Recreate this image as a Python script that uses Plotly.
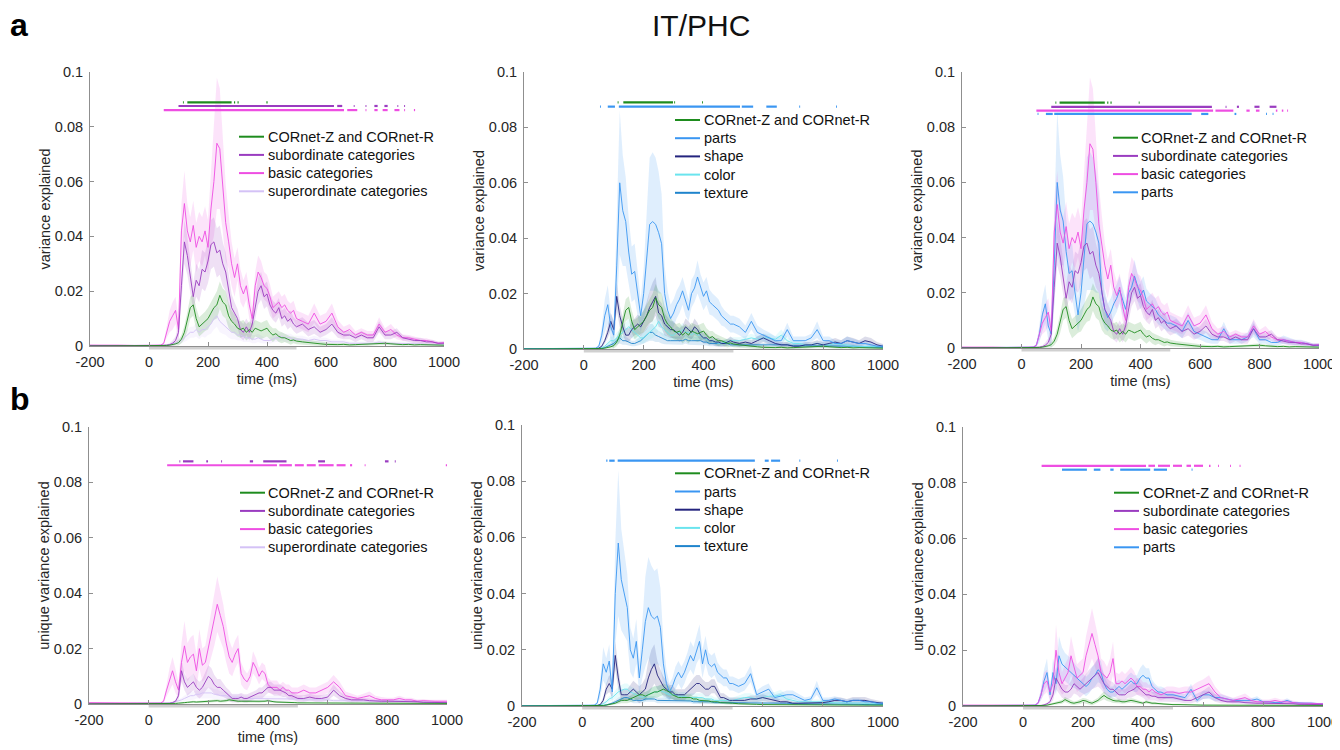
import plotly.graph_objects as go

# ---------------- time axis (ms) ----------------
time_ms = [-200, -150, -100, -50, 0, 20,
           40, 50, 60, 70, 80, 90, 100, 110, 120, 130,
           140, 150, 160, 170, 180, 190, 200, 210, 220, 230,
           240, 250, 260, 270, 280, 290, 300, 310, 320, 330,
           340, 350, 360, 370, 380, 390, 400, 410, 420, 430,
           440, 450, 460, 470, 480, 490, 500,
           520, 540, 560, 580, 600, 620, 640, 660, 680, 700,
           720, 740, 760, 780, 800, 820, 840, 860, 880, 900,
           920, 940, 960, 980, 1000]

# values below are in units of 1e-3 (variance explained x 1000)
# ---------------- row a: variance explained ----------------
a_cornet = ([0, 0, 0, 0, 0, 0.1] +
            [0.1, 0.1, 0.2, 0.3, 0.5, 0.8, 1.2, 2.5, 5, 9] +
            [14, 15, 10, 7, 8, 9, 10, 12, 14, 15] +
            [18.5, 16, 15, 11, 9, 8, 6.5, 6, 6.5, 5] +
            [6, 5, 6.5, 6, 5.5, 6, 6.5, 5, 4, 4.5] +
            [3.5, 3, 3, 2.5, 2, 2.2, 1.8] +
            [1.5, 1.2, 1.0, 0.8, 0.6, 0.5, 0.5, 0.6, 0.4, 0.5] +
            [0.6, 0.5, 0.7, 0.9, 1.0, 0.8, 0.6, 0.5, 0.6, 0.4] +
            [0.5, 0.4, 0.3, 0.3, 0.3])
a_cornet_sem = ([0.1, 0.1, 0.1, 0.1, 0.1, 0.1] +
                [0.1, 0.1, 0.2, 0.3, 0.4, 0.6, 1, 1.5, 2.5, 3.5] +
                [4, 4, 4, 3.5, 3.5, 3.5, 4, 4, 4.5, 5] +
                [5, 5, 5, 4.5, 4, 3.5, 3, 3, 3, 3] +
                [3, 3, 3, 3, 3, 3, 3, 2.5, 2.5, 2] +
                [2, 2, 1.5, 1.5, 1.5, 1.2, 1.2] +
                [1, 1, 0.8, 0.8, 0.6, 0.6, 0.5, 0.5, 0.5, 0.5] +
                [0.5, 0.5, 0.5, 0.6, 0.6, 0.5, 0.5, 0.4, 0.4, 0.4] +
                [0.4, 0.3, 0.3, 0.3, 0.3])

a_sub = ([0.2, 0.1, 0.1, 0.1, 0.1, 0.1] +
         [0.1, 0.2, 0.3, 0.5, 1, 2, 5, 22, 38, 33] +
         [26, 18, 24, 22, 28, 27, 31, 37, 38, 34] +
         [35, 30, 27, 21, 14, 12, 10, 6, 5, 7] +
         [5, 8, 14, 20, 22, 18, 19, 15, 13, 12] +
         [14, 10, 11, 9, 10, 8, 7] +
         [8, 6, 7, 5, 6, 8, 5, 4, 4, 3] +
         [4, 3, 3, 7, 4, 4, 5, 3, 2.5, 2] +
         [2, 1.5, 1.5, 1, 1])
a_sub_sem = ([0.1, 0.1, 0.1, 0.1, 0.1, 0.1] +
             [0.1, 0.2, 0.3, 0.5, 1, 1.5, 3, 6, 8, 7] +
             [6, 5, 6, 6, 7, 7, 8, 9, 9, 9] +
             [9, 8, 7, 6, 5, 4, 3.5, 3, 3, 3] +
             [3, 3.5, 4, 5, 5, 4.5, 4.5, 4, 3.5, 3.5] +
             [3.5, 3, 3, 3, 3, 2.5, 2.5] +
             [2.5, 2.5, 2.5, 2, 2, 2.5, 2, 1.5, 1.5, 1.5] +
             [1.5, 1.5, 1.5, 2, 1.5, 1.5, 1.5, 1, 1, 1] +
             [1, 0.8, 0.8, 0.6, 0.6])

a_basic = ([0.3, 0.4, 0.3, 0.2, 0.3, 0.3] +
           [0.3, 1, 5, 9, 11, 13, 6, 42, 52, 42] +
           [38, 44, 36, 40, 38, 42, 36, 50, 60, 74] +
           [72, 60, 45, 38, 30, 25, 30, 22, 19, 22] +
           [15, 10, 22, 27, 25, 22, 21, 18, 14, 15] +
           [16, 14, 15, 13, 12, 13, 10] +
           [9, 8, 12, 8, 9, 12, 7, 5, 6, 4] +
           [5, 4, 4, 8, 5, 6, 4, 3, 3, 2.5] +
           [2, 2, 1.5, 1, 1.2])
a_basic_sem = ([0.2, 0.2, 0.2, 0.2, 0.2, 0.2] +
               [0.2, 0.5, 2, 4, 5, 5, 4, 10, 12, 10] +
               [9, 9, 9, 9, 9, 9, 10, 14, 20, 24] +
               [22, 18, 14, 10, 8, 7, 6, 6, 5, 5] +
               [5, 4, 5, 6, 6, 5, 5, 4.5, 4, 4] +
               [4, 4, 4, 3.5, 3.5, 3.5, 3] +
               [3, 3, 3.5, 3, 3, 3.5, 2.5, 2, 2, 1.5] +
               [1.5, 1.5, 1.5, 2.5, 1.5, 2, 1.5, 1.2, 1, 1] +
               [0.8, 0.8, 0.6, 0.5, 0.5])

a_super = ([0.1, 0.1, 0.1, 0.1, 0.1, 0.1] +
           [0.1, 0.1, 0.3, 0.5, 1, 1, 1.5, 2, 3, 4] +
           [5, 5, 6, 5, 6, 6, 7, 8, 10, 11] +
           [9, 8, 7, 6, 5, 5, 4, 4, 3.5, 3] +
           [3, 2.5, 2.5, 3, 2.5, 2, 2, 2, 2.5, 3] +
           [3, 3.5, 3, 3, 3, 2.5, 2.5] +
           [2.5, 2, 2.5, 2, 2, 1.5, 1.5, 1.5, 1, 1] +
           [1, 1, 1, 1.5, 1, 1, 1, 1, 1, 0.8] +
           [0.8, 0.6, 0.6, 0.5, 0.5])
a_super_sem = ([0.1, 0.1, 0.1, 0.1, 0.1, 0.1] +
               [0.1, 0.1, 0.2, 0.3, 0.5, 0.5, 1, 1, 1.5, 2] +
               [2, 2, 2.5, 2.5, 2.5, 3, 3, 3.5, 4, 4] +
               [4, 3.5, 3, 3, 2.5, 2.5, 2, 2, 2, 1.5] +
               [1.5, 1.5, 1.5, 1.5, 1.5, 1.2, 1.2, 1.2, 1.2, 1.5] +
               [1.5, 1.5, 1.5, 1.5, 1.5, 1.2, 1.2] +
               [1.2, 1, 1.2, 1, 1, 0.8, 0.8, 0.8, 0.6, 0.6] +
               [0.6, 0.6, 0.6, 0.8, 0.6, 0.6, 0.6, 0.6, 0.6, 0.5] +
               [0.5, 0.4, 0.4, 0.3, 0.3])

a_parts = ([0.1, 0.1, 0.2, 0.1, 0.1, 0.2] +
           [0.3, 1, 5, 12, 16, 8, 5, 30, 60, 50] +
           [46, 35, 27, 28, 20, 12, 20, 33, 45, 46] +
           [45, 42, 38, 20, 14, 11, 13, 16, 18, 21] +
           [17, 14, 20, 22, 26, 22, 19, 21, 17, 16] +
           [15, 14, 12, 11, 10, 9, 9] +
           [8, 6, 10, 6, 5, 4, 3, 3, 7, 3] +
           [3, 3, 4, 7, 3, 3, 2, 2, 3, 2.5] +
           [2, 2, 1.5, 1, 1])
a_parts_sem = ([0.1, 0.1, 0.1, 0.1, 0.1, 0.1] +
               [0.2, 0.5, 3, 6, 7, 5, 5, 15, 26, 20] +
               [16, 12, 10, 10, 8, 6, 9, 18, 24, 25] +
               [24, 22, 18, 10, 7, 5, 5, 5, 5, 5] +
               [5, 4, 5, 5, 6, 5, 5, 5, 4.5, 4] +
               [4, 4, 3.5, 3, 3, 3, 3] +
               [3, 2.5, 3, 2.5, 2, 2, 1.5, 1.5, 2.5, 1.5] +
               [1.5, 1.5, 1.5, 3, 1.5, 1.5, 1.2, 1.2, 1.5, 1.2] +
               [1, 1, 0.8, 0.6, 0.6])

a_shape = ([0, 0, 0, 0, 0, 0.1] +
           [0.1, 0.3, 1, 3, 6, 10, 7, 19, 12, 8] +
           [5, 5, 7, 8, 9, 8, 10, 12, 15, 17] +
           [19, 13, 12, 9, 8, 7, 7, 6, 5, 6] +
           [8, 7, 6, 8, 7, 5, 4, 4, 3, 3] +
           [2.5, 2.5, 2, 2, 2.5, 3, 2.5] +
           [2, 2.5, 2, 3, 4, 3, 2, 1.5, 1.5, 1] +
           [1, 1.5, 1.5, 2, 1.5, 2, 2.5, 2, 3, 2.5] +
           [2, 3, 2.5, 1.5, 1])
a_shape_sem = ([0.1, 0.1, 0.1, 0.1, 0.1, 0.1] +
               [0.1, 0.2, 0.5, 1, 2, 3, 3, 5, 4, 3] +
               [2.5, 2.5, 3, 3, 3.5, 3.5, 4, 5, 6, 7] +
               [7, 5, 4.5, 4, 3.5, 3, 3, 2.5, 2.5, 2.5] +
               [3, 3, 2.5, 3, 2.5, 2, 2, 2, 1.5, 1.5] +
               [1.5, 1.5, 1.2, 1.2, 1.2, 1.5, 1.2] +
               [1.2, 1.2, 1.2, 1.5, 1.5, 1.5, 1, 1, 1, 0.8] +
               [0.8, 1, 1, 1.2, 1, 1.2, 1.5, 1.2, 1.5, 1.5] +
               [1.2, 1.5, 1.5, 1, 0.8])

a_color = ([0, 0, 0, 0, 0, 0] +
           [0.1, 0.2, 0.5, 1, 2, 3, 3, 4, 5, 6] +
           [7, 8, 7, 6, 5, 4, 4, 5, 6, 7] +
           [8, 10, 8, 7, 6, 5, 5, 6, 6, 7] +
           [6, 6, 5, 6, 5, 5, 4, 3.5, 3, 3] +
           [2.5, 2, 2, 2.5, 2.5, 3, 3] +
           [3, 3.5, 4, 3.5, 4, 4, 3.5, 5, 3, 2] +
           [2, 1.5, 1.5, 2, 1.5, 1.5, 2, 1.5, 1.5, 1] +
           [1, 1, 1, 0.8, 0.8])
a_color_sem = ([0.1, 0.1, 0.1, 0.1, 0.1, 0.1] +
               [0.1, 0.1, 0.3, 0.5, 1, 1.5, 1.5, 2, 2, 2.5] +
               [2.5, 3, 3, 2.5, 2, 2, 2, 2, 2.5, 3] +
               [3, 3.5, 3, 3, 2.5, 2, 2, 2, 2, 2.5] +
               [2, 2, 2, 2, 2, 2, 1.5, 1.5, 1.2, 1.2] +
               [1, 1, 1, 1, 1, 1.2, 1.2] +
               [1.2, 1.2, 1.5, 1.2, 1.5, 1.5, 1.2, 2, 1.2, 1] +
               [1, 0.8, 0.8, 1, 0.8, 0.8, 1, 0.8, 0.8, 0.6] +
               [0.6, 0.6, 0.6, 0.5, 0.5])

a_texture = ([0, 0, 0, 0, 0, 0] +
             [0.1, 0.1, 0.2, 0.5, 1, 1.5, 2, 3, 4, 3] +
             [3, 2.5, 2, 2, 2.5, 3, 4, 5, 6, 6] +
             [5, 4.5, 4, 3.5, 3, 3, 3, 3, 3, 3] +
             [3.5, 3, 3, 3, 3, 3, 2.5, 2.5, 2, 2] +
             [2, 2, 2, 2, 2, 1.5, 1.5] +
             [1.5, 1.5, 1.5, 1.5, 1.5, 1.5, 1.5, 1.5, 1.5, 1.2] +
             [1.2, 1, 1, 1, 1, 1, 1, 1, 1, 1] +
             [0.8, 0.8, 0.8, 0.6, 0.6])
a_texture_sem = ([0.1, 0.1, 0.1, 0.1, 0.1, 0.1] +
                 [0.1, 0.1, 0.1, 0.3, 0.5, 0.8, 1, 1.5, 2, 1.5] +
                 [1.5, 1.2, 1, 1, 1.2, 1.5, 2, 2.5, 3, 3] +
                 [2.5, 2, 2, 1.8, 1.5, 1.5, 1.5, 1.5, 1.5, 1.5] +
                 [1.5, 1.5, 1.5, 1.5, 1.5, 1.5, 1.2, 1.2, 1, 1] +
                 [1, 1, 1, 1, 1, 0.8, 0.8] +
                 [0.8, 0.8, 0.8, 0.8, 0.8, 0.8, 0.8, 0.8, 0.8, 0.6] +
                 [0.6, 0.5, 0.5, 0.5, 0.5, 0.5, 0.5, 0.5, 0.5, 0.5] +
                 [0.4, 0.4, 0.4, 0.3, 0.3])

# ---------------- row b: unique variance explained ----------------
# panel b1 (categories)
b1_cornet = ([0, 0, 0, 0, 0, 0] +
             [0, 0, 0.1, 0.1, 0.2, 0.2, 0.3, 0.3, 0.5, 0.6] +
             [0.8, 0.8, 0.7, 0.8, 0.9, 1, 1, 1, 1.1, 1.2] +
             [1, 1, 1.2, 1.5, 1.3, 1.2, 1, 1, 1, 0.9] +
             [0.9, 0.8, 0.8, 0.8, 0.9, 1, 1.2, 0.9, 0.8, 0.7] +
             [0.7, 0.6, 0.6, 0.5, 0.5, 0.5, 0.4] +
             [0.4, 0.3, 0.3, 0.3, 0.3, 0.3, 0.3, 0.3, 0.3, 0.3] +
             [0.3, 0.3, 0.3, 0.3, 0.3, 0.3, 0.3, 0.2, 0.2, 0.2] +
             [0.2, 0.2, 0.2, 0.2, 0.2])
b1_cornet_sem = ([0.1, 0.1, 0.1, 0.1, 0.1, 0.1] +
                 [0.1, 0.1, 0.1, 0.1, 0.2, 0.2, 0.2, 0.3, 0.3, 0.4] +
                 [0.4, 0.4, 0.4, 0.4, 0.5, 0.5, 0.5, 0.5, 0.5, 0.5] +
                 [0.5, 0.5, 0.6, 0.6, 0.6, 0.5, 0.5, 0.5, 0.5, 0.5] +
                 [0.5, 0.4, 0.4, 0.4, 0.4, 0.5, 0.5, 0.4, 0.4, 0.4] +
                 [0.4, 0.3, 0.3, 0.3, 0.3, 0.3, 0.3] +
                 [0.3, 0.2, 0.2, 0.2, 0.2, 0.2, 0.2, 0.2, 0.2, 0.2] +
                 [0.2, 0.2, 0.2, 0.2, 0.2, 0.2, 0.2, 0.2, 0.2, 0.2] +
                 [0.2, 0.2, 0.2, 0.2, 0.2])

b1_sub = ([0.1, 0.1, 0.1, 0.1, 0.1, 0.1] +
          [0.1, 0.1, 0.2, 0.3, 0.5, 1, 3, 12, 8, 6] +
          [7, 8, 6, 5, 6, 8, 10, 9, 7, 6] +
          [6, 5, 4, 3, 2, 2, 2, 2.5, 2, 2] +
          [2.5, 3, 3.5, 4, 4, 5, 6, 6, 5, 5] +
          [5, 4.5, 4, 3, 3, 2.5, 2] +
          [2, 2.5, 2, 2, 2.5, 5, 3, 2, 1.5, 1.5] +
          [1.5, 1.2, 1, 1, 1, 1, 1, 0.8, 0.8, 0.8] +
          [0.6, 0.6, 0.5, 0.5, 0.5])
b1_sub_sem = ([0.1, 0.1, 0.1, 0.1, 0.1, 0.1] +
              [0.1, 0.1, 0.1, 0.2, 0.3, 0.5, 1.5, 4, 3, 3] +
              [3, 3, 3, 3, 3, 3.5, 4, 4, 3.5, 3] +
              [3, 2.5, 2, 2, 1.5, 1.5, 1.5, 1.5, 1.5, 1.5] +
              [1.5, 1.5, 1.5, 2, 2, 2, 2, 2, 2, 2] +
              [2, 2, 1.5, 1.5, 1.5, 1.2, 1.2] +
              [1.2, 1.2, 1.2, 1.2, 1.2, 2, 1.5, 1, 1, 0.8] +
              [0.8, 0.8, 0.6, 0.6, 0.6, 0.6, 0.6, 0.5, 0.5, 0.5] +
              [0.4, 0.4, 0.4, 0.3, 0.3])

b1_basic = ([0.5, 0.4, 0.3, 0.3, 0.3, 0.3] +
            [0.3, 1, 5, 9, 12, 8, 5, 15, 21, 15] +
            [17, 18, 12, 20, 14, 15, 20, 25, 30, 36] +
            [32, 28, 22, 17, 15, 18, 20, 11, 9, 8] +
            [10, 15, 13, 10, 12, 11, 7, 6, 6, 6] +
            [5, 6, 5, 5, 4, 4, 4] +
            [5, 4, 4, 5, 6, 8, 6, 3, 2.5, 2] +
            [2.5, 3, 2, 1.5, 1.5, 1.5, 2, 1.5, 1.5, 1] +
            [1.2, 1, 1, 1, 1])
b1_basic_sem = ([0.2, 0.2, 0.2, 0.2, 0.2, 0.2] +
                [0.2, 0.5, 2, 4, 5, 4, 3, 7, 9, 7] +
                [7, 7, 6, 7, 6, 6, 7, 8, 9, 10] +
                [9, 8, 7, 6, 5, 5, 5, 4, 3.5, 3] +
                [3, 4, 3.5, 3, 3, 3, 2.5, 2.5, 2.5, 2.5] +
                [2, 2, 2, 2, 2, 2, 2] +
                [2, 2, 2, 2, 2, 2.5, 2, 1.5, 1.2, 1] +
                [1.2, 1.5, 1, 1, 0.8, 0.8, 1, 0.8, 0.8, 0.6] +
                [0.6, 0.5, 0.5, 0.5, 0.5])

b1_super = ([0.1, 0.1, 0.1, 0.1, 0.1, 0.1] +
            [0.1, 0.1, 0.2, 0.3, 0.5, 0.8, 1, 1.5, 2, 2.5] +
            [3, 3, 3.5, 3.5, 4, 4, 4, 4, 3.5, 3.5] +
            [3, 3, 3, 2.5, 2.5, 2.5, 2.5, 2.5, 2, 2] +
            [2, 2, 2, 2, 2, 2, 2, 2, 2, 2] +
            [2, 2, 1.8, 1.8, 1.8, 1.8, 1.8] +
            [1.5, 1.5, 1.5, 1.5, 1.5, 1.2, 1.2, 1.2, 1.2, 1] +
            [1, 1, 1, 1, 1, 1, 1, 1, 1.2, 1] +
            [0.8, 0.8, 0.8, 0.6, 0.6])
b1_super_sem = ([0.1, 0.1, 0.1, 0.1, 0.1, 0.1] +
                [0.1, 0.1, 0.1, 0.2, 0.3, 0.4, 0.5, 0.8, 1, 1.2] +
                [1.5, 1.5, 1.5, 1.5, 2, 2, 2, 2, 1.8, 1.8] +
                [1.5, 1.5, 1.5, 1.2, 1.2, 1.2, 1.2, 1.2, 1, 1] +
                [1, 1, 1, 1, 1, 1, 1, 1, 1, 1] +
                [1, 1, 0.8, 0.8, 0.8, 0.8, 0.8] +
                [0.8, 0.8, 0.8, 0.8, 0.8, 0.6, 0.6, 0.6, 0.6, 0.5] +
                [0.5, 0.5, 0.5, 0.5, 0.5, 0.5, 0.5, 0.5, 0.6, 0.5] +
                [0.4, 0.4, 0.4, 0.3, 0.3])

# panel b2 (features)
b2_cornet = ([0, 0, 0, 0, 0, 0] +
             [0, 0.1, 0.1, 0.2, 0.3, 0.5, 0.8, 1, 1.5, 2] +
             [2, 2, 2.5, 3, 3.5, 4, 4, 3.5, 4, 4.5] +
             [5, 5, 5.5, 6, 5.5, 5, 4, 3.5, 3, 3] +
             [3, 3, 3, 2.5, 2.5, 2, 2, 2, 1.8, 1.5] +
             [1.5, 1.5, 1.2, 1.2, 1, 1, 1] +
             [0.8, 0.8, 0.6, 0.6, 0.5, 0.5, 0.5, 0.5, 0.5, 0.5] +
             [0.5, 0.5, 0.5, 0.5, 0.5, 0.5, 0.5, 0.5, 0.4, 0.4] +
             [0.4, 0.4, 0.3, 0.3, 0.3])
b2_cornet_sem = ([0.1, 0.1, 0.1, 0.1, 0.1, 0.1] +
                 [0.1, 0.1, 0.1, 0.1, 0.2, 0.3, 0.4, 0.5, 0.8, 1] +
                 [1, 1, 1.2, 1.5, 1.5, 1.5, 1.5, 1.5, 1.5, 2] +
                 [2, 2, 2, 2, 2, 2, 1.5, 1.5, 1.2, 1.2] +
                 [1.2, 1.2, 1.2, 1, 1, 1, 0.8, 0.8, 0.8, 0.6] +
                 [0.6, 0.6, 0.5, 0.5, 0.5, 0.5, 0.5] +
                 [0.4, 0.4, 0.3, 0.3, 0.3, 0.3, 0.3, 0.3, 0.3, 0.3] +
                 [0.3, 0.3, 0.3, 0.3, 0.3, 0.3, 0.3, 0.3, 0.2, 0.2] +
                 [0.2, 0.2, 0.2, 0.2, 0.2])

b2_parts = ([0.1, 0.1, 0.2, 0.1, 0.1, 0.2] +
            [0.3, 1, 6, 15, 12, 16, 5, 40, 58, 45] +
            [40, 35, 20, 17, 23, 10, 20, 30, 35, 32] +
            [31, 32, 28, 15, 8, 5, 7, 10, 12, 10] +
            [12, 15, 18, 16, 20, 23, 15, 20, 15, 14] +
            [15, 12, 11, 10, 10, 8, 8] +
            [7, 8, 11.5, 4, 5, 6, 3, 3.5, 4, 4] +
            [3, 2, 2.5, 6.5, 2, 2, 2.5, 2, 1.5, 2] +
            [2, 1.5, 1.5, 1, 1])
b2_parts_sem = ([0.1, 0.1, 0.1, 0.1, 0.1, 0.1] +
                [0.2, 0.5, 3, 6, 5, 6, 4, 18, 26, 18] +
                [15, 12, 8, 7, 8, 6, 10, 16, 18, 18] +
                [17, 17, 14, 8, 5, 3, 3, 4, 4, 4] +
                [4, 4, 5, 5, 5, 6, 5, 5, 4, 4] +
                [4, 3.5, 3, 3, 3, 2.5, 2.5] +
                [2.5, 2.5, 3, 1.5, 2, 2, 1.2, 1.2, 1.5, 1.5] +
                [1.2, 1, 1, 2.5, 1, 1, 1, 1, 0.8, 0.8] +
                [0.8, 0.6, 0.6, 0.5, 0.5])

b2_shape = ([0, 0, 0, 0, 0, 0] +
            [0.1, 0.2, 0.5, 2, 6, 8, 6, 18, 10, 4] +
            [4, 4, 5, 6, 5, 4, 5, 6, 10, 13] +
            [15, 11, 9, 7, 6, 5, 5, 4, 4, 4] +
            [4, 5, 6, 7, 8, 8, 7, 6, 6, 7] +
            [7, 5, 3, 3, 2.5, 2, 2] +
            [2, 2, 2.5, 2.5, 3, 2.5, 2, 1.5, 1.5, 1] +
            [1, 1, 1, 1, 1.2, 1.5, 2, 2, 1.5, 2] +
            [2, 2, 1.5, 1.2, 1])
b2_shape_sem = ([0.1, 0.1, 0.1, 0.1, 0.1, 0.1] +
                [0.1, 0.1, 0.3, 1, 2, 3, 3, 5, 4, 2] +
                [2, 2, 2.5, 3, 3, 3, 3, 4, 6, 7] +
                [7, 5, 4, 3.5, 3, 2.5, 2.5, 2, 2, 2] +
                [2, 2, 2.5, 3, 3, 3, 2.5, 2.5, 2.5, 2.5] +
                [2.5, 2, 1.5, 1.5, 1.2, 1, 1] +
                [1, 1, 1.2, 1.2, 1.2, 1.2, 1, 0.8, 0.8, 0.6] +
                [0.6, 0.6, 0.6, 0.6, 0.8, 0.8, 1, 1, 1, 1.2] +
                [1.2, 1.2, 1, 0.8, 0.6])

b2_color = ([0, 0, 0, 0, 0, 0] +
            [0.1, 0.2, 0.4, 0.8, 1.5, 2.5, 3, 4, 5, 5.5] +
            [6, 6, 5, 4.5, 4, 3.5, 3, 3.5, 4, 4.5] +
            [5, 5, 5.5, 5, 4.5, 4, 4, 4, 3.5, 3.5] +
            [3.5, 3, 3, 3, 3, 3, 3, 2.5, 2.5, 2.5] +
            [2, 2, 2, 2, 2, 2, 2] +
            [2.5, 3, 3, 2.5, 3, 3.5, 3.5, 4, 2.5, 2] +
            [1.5, 1.5, 1.5, 1.5, 1.5, 1.2, 1.2, 1.2, 1, 1] +
            [1, 1, 0.8, 0.8, 0.8])
b2_color_sem = ([0.1, 0.1, 0.1, 0.1, 0.1, 0.1] +
                [0.1, 0.1, 0.2, 0.4, 0.8, 1, 1.2, 1.5, 2, 2] +
                [2, 2, 2, 2, 1.8, 1.5, 1.5, 1.5, 1.8, 2] +
                [2, 2, 2, 2, 2, 1.8, 1.8, 1.8, 1.5, 1.5] +
                [1.5, 1.5, 1.5, 1.5, 1.5, 1.5, 1.5, 1.2, 1.2, 1.2] +
                [1, 1, 1, 1, 1, 1, 1] +
                [1.2, 1.5, 1.5, 1.2, 1.5, 1.5, 1.5, 1.8, 1.2, 1] +
                [0.8, 0.8, 0.8, 0.8, 0.8, 0.6, 0.6, 0.6, 0.5, 0.5] +
                [0.5, 0.5, 0.4, 0.4, 0.4])

b2_texture = ([0, 0, 0, 0, 0, 0] +
              [0, 0.1, 0.1, 0.2, 0.4, 0.6, 1, 1.5, 2, 2.5] +
              [3, 3, 2.5, 2, 2, 2, 2, 2.5, 2.5, 2.5] +
              [2.5, 2, 2, 2, 2, 2, 2, 2, 1.8, 1.8] +
              [1.8, 1.8, 1.8, 1.5, 1.5, 1.5, 1.5, 1.5, 1.5, 1.5] +
              [1.2, 1.2, 1.2, 1.2, 1.2, 1.2, 1] +
              [1, 1, 1, 1, 1, 1, 1, 1, 1, 0.8] +
              [0.8, 0.8, 0.8, 0.8, 0.8, 0.8, 0.8, 0.6, 0.6, 0.6] +
              [0.6, 0.5, 0.5, 0.5, 0.5])
b2_texture_sem = ([0.1, 0.1, 0.1, 0.1, 0.1, 0.1] +
                  [0.1, 0.1, 0.1, 0.1, 0.2, 0.3, 0.5, 0.8, 1, 1] +
                  [1, 1, 1, 1, 1, 1, 1, 1, 1, 1] +
                  [1, 1, 1, 1, 1, 1, 1, 1, 0.8, 0.8] +
                  [0.8, 0.8, 0.8, 0.8, 0.8, 0.8, 0.8, 0.8, 0.8, 0.8] +
                  [0.6, 0.6, 0.6, 0.6, 0.6, 0.6, 0.5] +
                  [0.5, 0.5, 0.5, 0.5, 0.5, 0.5, 0.5, 0.5, 0.5, 0.4] +
                  [0.4, 0.4, 0.4, 0.4, 0.4, 0.4, 0.4, 0.3, 0.3, 0.3] +
                  [0.3, 0.3, 0.3, 0.3, 0.3])

# panel b3 (categories + parts)
b3_cornet = ([0, 0, 0, 0, 0, 0] +
             [0, 0, 0.1, 0.2, 0.3, 0.5, 0.8, 1, 1.2, 1.5] +
             [2.3, 1.8, 1.2, 1, 1.2, 1.5, 2, 1.8, 1.3, 1] +
             [1.5, 2, 3, 3.8, 3, 2.5, 2, 1.8, 1.8, 1.5] +
             [1.5, 1.8, 2, 1.8, 1.5, 1.2, 1, 1.5, 1.2, 1] +
             [1, 0.8, 0.8, 0.7, 0.6, 0.6, 0.5] +
             [0.5, 0.4, 0.4, 0.4, 0.3, 0.3, 0.3, 0.3, 0.3, 0.3] +
             [0.3, 0.3, 0.3, 0.3, 0.3, 0.3, 0.3, 0.2, 0.2, 0.2] +
             [0.2, 0.2, 0.2, 0.2, 0.2])
b3_cornet_sem = ([0.1, 0.1, 0.1, 0.1, 0.1, 0.1] +
                 [0.1, 0.1, 0.1, 0.1, 0.2, 0.3, 0.4, 0.5, 0.6, 0.7] +
                 [0.9, 0.8, 0.7, 0.6, 0.7, 0.8, 0.9, 0.9, 0.8, 0.7] +
                 [0.8, 1, 1.2, 1.4, 1.2, 1, 0.9, 0.8, 0.8, 0.7] +
                 [0.7, 0.8, 0.8, 0.8, 0.7, 0.6, 0.5, 0.6, 0.5, 0.5] +
                 [0.5, 0.4, 0.4, 0.4, 0.3, 0.3, 0.3] +
                 [0.3, 0.2, 0.2, 0.2, 0.2, 0.2, 0.2, 0.2, 0.2, 0.2] +
                 [0.2, 0.2, 0.2, 0.2, 0.2, 0.2, 0.2, 0.2, 0.2, 0.2] +
                 [0.2, 0.2, 0.2, 0.2, 0.2])

b3_sub = ([0.1, 0.1, 0.1, 0.1, 0.1, 0.1] +
          [0.1, 0.1, 0.2, 0.4, 0.8, 1.5, 4, 10, 8, 6] +
          [5, 5, 6, 8, 7, 6, 7, 8, 9, 10] +
          [11, 12, 10, 8, 7, 6, 6, 5, 4, 4] +
          [4, 5, 5.5, 6, 7, 6, 5, 4, 4, 3.5] +
          [3.5, 3, 3, 3, 3, 3, 3] +
          [2.5, 2, 2, 3, 4, 5, 3, 2, 1.5, 1.5] +
          [1.5, 1.2, 1, 1, 1, 1, 1, 0.8, 0.8, 0.8] +
          [0.6, 0.6, 0.5, 0.5, 0.5])
b3_sub_sem = ([0.1, 0.1, 0.1, 0.1, 0.1, 0.1] +
              [0.1, 0.1, 0.1, 0.2, 0.4, 0.8, 2, 4, 3.5, 3] +
              [2.5, 2.5, 3, 3.5, 3, 3, 3, 3.5, 4, 4] +
              [4.5, 5, 4, 3.5, 3, 3, 2.5, 2, 2, 2] +
              [2, 2, 2.5, 2.5, 3, 2.5, 2, 2, 2, 1.5] +
              [1.5, 1.5, 1.5, 1.5, 1.5, 1.5, 1.5] +
              [1.2, 1, 1, 1.5, 1.5, 2, 1.5, 1, 0.8, 0.8] +
              [0.8, 0.6, 0.6, 0.6, 0.6, 0.6, 0.6, 0.5, 0.5, 0.5] +
              [0.4, 0.4, 0.3, 0.3, 0.3])

b3_basic = ([0.3, 0.4, 0.3, 0.3, 0.2, 0.3] +
            [0.3, 1, 4, 8, 9, 5, 8, 20, 12, 8] +
            [10, 12, 18, 14, 10, 11, 12, 18, 22, 26] +
            [22, 18, 12, 11, 10, 12, 17, 8, 8, 9] +
            [8, 9, 10, 9, 7, 7, 6, 6, 5, 6] +
            [5, 4.5, 4, 4.5, 5, 5, 5] +
            [4.5, 5, 5, 6, 7, 8, 5, 3, 2.5, 2] +
            [2.5, 3, 2, 1.5, 1.5, 1.5, 2, 1.5, 1.5, 1.2] +
            [1, 1, 1, 0.8, 0.8])
b3_basic_sem = ([0.2, 0.2, 0.2, 0.2, 0.2, 0.2] +
                [0.2, 0.5, 2, 4, 4, 3, 4, 9, 6, 4] +
                [5, 5, 7, 6, 5, 5, 5, 7, 8, 9] +
                [8, 7, 5, 5, 4, 5, 6, 4, 3.5, 3.5] +
                [3.5, 3.5, 4, 3.5, 3, 3, 2.5, 2.5, 2.5, 2.5] +
                [2, 2, 2, 2, 2, 2, 2] +
                [2, 2, 2, 2.5, 2.5, 3, 2, 1.5, 1.2, 1] +
                [1.2, 1.5, 1, 0.8, 0.8, 0.8, 1, 0.8, 0.8, 0.6] +
                [0.5, 0.5, 0.5, 0.4, 0.4])

b3_parts = ([0.1, 0.1, 0.2, 0.1, 0.1, 0.2] +
            [0.3, 1, 4, 9, 12, 4, 12, 8, 18, 15] +
            [14, 13, 12, 11, 10, 9, 8, 7, 8, 10] +
            [11, 13, 12, 8, 6, 5, 5, 6, 7, 6] +
            [7, 8, 9, 8, 8, 10, 11, 10, 10, 7] +
            [6, 5, 5, 4.5, 4, 4, 4] +
            [3.5, 3, 6, 2, 4, 4, 3, 3, 2.5, 2] +
            [2, 2, 2, 2.5, 1.5, 1.5, 1.2, 1.2, 2, 1.2] +
            [1, 1, 1, 0.8, 0.8])
b3_parts_sem = ([0.1, 0.1, 0.1, 0.1, 0.1, 0.1] +
                [0.2, 0.5, 2, 4, 5, 2, 5, 4, 7, 6] +
                [5, 5, 5, 4.5, 4, 4, 3.5, 3.5, 3.5, 4] +
                [4, 4.5, 4, 3, 2.5, 2, 2, 2.5, 2.5, 2.5] +
                [2.5, 3, 3, 3, 3, 3.5, 4, 3.5, 3.5, 2.5] +
                [2, 2, 2, 2, 1.5, 1.5, 1.5] +
                [1.5, 1.2, 2, 1, 1.5, 1.5, 1.2, 1.2, 1, 0.8] +
                [0.8, 0.8, 0.8, 1, 0.6, 0.6, 0.5, 0.5, 0.8, 0.5] +
                [0.4, 0.4, 0.4, 0.3, 0.3])

# ---------------- significant time windows (ms) ----------------
sig_a1_cornet = [[115, 118], [130, 280], [288, 292], [300, 304], [398, 402]]
sig_a1_sub = [[100, 627], [638, 655], [694, 697], [734, 737], [764, 775], [798, 809], [842, 845], [865, 868]]
sig_a1_basic = [[50, 661], [672, 706], [734, 737], [764, 775], [792, 809], [832, 849], [865, 868], [898, 902]]
sig_a2_cornet = [[113, 116], [132, 298], [302, 305], [395, 398]]
sig_a2_parts = [[54, 57], [80, 104], [117, 522], [528, 566], [610, 645], [720, 723], [843, 846]]
sig_a3_cornet = [[114, 117], [128, 280], [288, 292], [299, 303], [394, 397]]
sig_a3_sub = [[100, 640], [686, 689], [724, 731], [783, 800], [834, 857]]
sig_a3_basic = [[50, 644], [652, 712], [756, 767], [788, 800], [855, 860], [875, 880], [893, 896]]
sig_a3_parts = [[54, 57], [82, 105], [110, 572], [604, 628], [716, 722], [822, 825], [844, 847]]
sig_b1_sub = [[103, 106], [115, 150], [193, 199], [243, 246], [339, 350], [384, 462], [568, 591], [792, 804], [825, 828]]
sig_b1_basic = [[62, 430], [438, 480], [490, 520], [530, 560], [570, 620], [630, 660], [675, 682], [724, 727], [996, 1000]]
sig_b2_parts = [[80, 84], [90, 108], [118, 574], [607, 620], [628, 658], [722, 725], [847, 850]]
sig_b3_basic = [[62, 410], [418, 440], [450, 490], [500, 530], [545, 560], [570, 600], [620, 625], [650, 653], [690, 693], [722, 725]]
sig_b3_parts = [[130, 213], [236, 258], [291, 302], [324, 424], [436, 480], [562, 565]]

# height (variance explained) at which each significance row is drawn
sig_levels_a1 = [0.0889, 0.0876, 0.0861]
sig_levels_a2 = [0.0890, 0.0875]
sig_levels_a3 = [0.0889, 0.0874, 0.0860, 0.0848]
sig_levels_b1 = [0.0876, 0.0862]
sig_levels_b2 = [0.0873]
sig_levels_b3 = [0.0861, 0.0847]

stim_window = [0, 500]
x_ticks = [-200, 0, 200, 400, 600, 800, 1000]
x_ticktext = ['-200', '0', '200', '400', '600', '800', '1000']
y_ticks = [0, 0.02, 0.04, 0.06, 0.08, 0.1]
y_ticktext = ['0', '0.02', '0.04', '0.06', '0.08', '0.1']

# ---------------- styles ----------------
C_CORNET = '#1e8c1e'
C_SUB = '#9a3cc0'
C_BASIC = '#ee4ee2'
C_SUPER = '#d4c2f6'
C_PARTS = '#3a96f2'
C_SHAPE = '#24247e'
C_COLOR = '#6ae4ee'
C_TEXTURE = '#1f84cc'

N_CORNET = 'CORnet-Z and CORnet-R'
N_SUB = 'subordinate categories'
N_BASIC = 'basic categories'
N_SUPER = 'superordinate categories'

FONT = 'Liberation Sans, Arial, Helvetica, sans-serif'
TXT = '#262626'
AX = '#8f8f8f'
# the page body has an 8px margin: the figure is placed at (8, 8) in the window
OFF = 8
W, H = 1340 - OFF, 750 - OFF


def px(xp):
    return (xp - OFF) / W


def py(yp):
    return 1 - (yp - OFF) / H


panels = [
    dict(key='a1', box=(90, 444, 72, 346), ytitle='variance explained',
         series=[(N_CORNET, a_cornet, a_cornet_sem, C_CORNET), (N_SUB, a_sub, a_sub_sem, C_SUB),
                 (N_BASIC, a_basic, a_basic_sem, C_BASIC), (N_SUPER, a_super, a_super_sem, C_SUPER)],
         sig=[(sig_a1_cornet, C_CORNET), (sig_a1_sub, C_SUB), (sig_a1_basic, C_BASIC)], levels=sig_levels_a1,
         leg=(239, 266, 136.7)),
    dict(key='a2', box=(524, 883, 72, 349), ytitle='variance explained',
         series=[(N_CORNET, a_cornet, a_cornet_sem, C_CORNET), ('parts', a_parts, a_parts_sem, C_PARTS),
                 ('shape', a_shape, a_shape_sem, C_SHAPE), ('color', a_color, a_color_sem, C_COLOR),
                 ('texture', a_texture, a_texture_sem, C_TEXTURE)],
         sig=[(sig_a2_cornet, C_CORNET), (sig_a2_parts, C_PARTS)], levels=sig_levels_a2,
         leg=(675, 702, 120.0)),
    dict(key='a3', box=(962, 1319, 72, 348), ytitle='variance explained',
         series=[(N_CORNET, a_cornet, a_cornet_sem, C_CORNET), (N_SUB, a_sub, a_sub_sem, C_SUB),
                 (N_BASIC, a_basic, a_basic_sem, C_BASIC), ('parts', a_parts, a_parts_sem, C_PARTS)],
         sig=[(sig_a3_cornet, C_CORNET), (sig_a3_sub, C_SUB), (sig_a3_basic, C_BASIC), (sig_a3_parts, C_PARTS)],
         levels=sig_levels_a3, leg=(1113, 1139, 137.7)),
    dict(key='b1', box=(89, 447, 427, 704), ytitle='unique variance explained',
         series=[(N_CORNET, b1_cornet, b1_cornet_sem, C_CORNET), (N_SUB, b1_sub, b1_sub_sem, C_SUB),
                 (N_BASIC, b1_basic, b1_basic_sem, C_BASIC), (N_SUPER, b1_super, b1_super_sem, C_SUPER)],
         sig=[(sig_b1_sub, C_SUB), (sig_b1_basic, C_BASIC)], levels=sig_levels_b1,
         leg=(240, 266, 492.7)),
    dict(key='b2', box=(522, 883, 425, 706), ytitle='unique variance explained',
         series=[(N_CORNET, b2_cornet, b2_cornet_sem, C_CORNET), ('parts', b2_parts, b2_parts_sem, C_PARTS),
                 ('shape', b2_shape, b2_shape_sem, C_SHAPE), ('color', b2_color, b2_color_sem, C_COLOR),
                 ('texture', b2_texture, b2_texture_sem, C_TEXTURE)],
         sig=[(sig_b2_parts, C_PARTS)], levels=sig_levels_b2,
         leg=(675, 702, 473.3)),
    dict(key='b3', box=(963, 1323, 427, 706), ytitle='unique variance explained',
         series=[(N_CORNET, b3_cornet, b3_cornet_sem, C_CORNET), (N_SUB, b3_sub, b3_sub_sem, C_SUB),
                 (N_BASIC, b3_basic, b3_basic_sem, C_BASIC), ('parts', b3_parts, b3_parts_sem, C_PARTS)],
         sig=[(sig_b3_basic, C_BASIC), (sig_b3_parts, C_PARTS)], levels=sig_levels_b3,
         leg=(1114, 1141, 492.7)),
]
LEG_STEP = 18.2


def rgba(hexc, a):
    h = hexc.lstrip('#')
    return 'rgba(%d,%d,%d,%.3f)' % (int(h[0:2], 16), int(h[2:4], 16), int(h[4:6], 16), a)


for p in panels:
    for s in p['series']:
        if len(s[1]) != len(time_ms) or len(s[2]) != len(time_ms):
            raise ValueError('length mismatch in %s %s: %d %d' % (p['key'], s[0], len(s[1]), len(s[2])))

fig = go.Figure()
layout = dict(width=W, height=H, autosize=False, margin=dict(l=0, r=0, t=0, b=0, pad=0, autoexpand=False),
              paper_bgcolor='white', plot_bgcolor='white', showlegend=False,
              font=dict(family=FONT, size=14.5, color=TXT))
shapes = []
annotations = []

for i, p in enumerate(panels):
    n = i + 1
    sfx = '' if n == 1 else str(n)
    xref, yref = 'x' + sfx, 'y' + sfx
    l, r, t, b = p['box']
    layout['xaxis' + sfx] = dict(
        domain=[px(l), px(r)], anchor=yref, range=[-200, 1000], automargin=False,
        tickmode='array', tickvals=x_ticks, ticktext=x_ticktext,
        ticks='inside', ticklen=4, tickcolor=AX, tickwidth=1, ticklabelstandoff=3,
        showline=True, linecolor=AX, linewidth=1, showgrid=False, zeroline=False,
        tickfont=dict(size=14.5, color=TXT, family=FONT),
        title=dict(text='time (ms)', font=dict(size=14.5, color=TXT, family=FONT), standoff=4))
    layout['yaxis' + sfx] = dict(
        domain=[py(b), py(t)], anchor=xref, range=[0, 0.1], automargin=False,
        tickmode='array', tickvals=y_ticks, ticktext=y_ticktext,
        ticks='inside', ticklen=4, tickcolor=AX, tickwidth=1, ticklabelstandoff=3,
        showline=True, linecolor=AX, linewidth=1, showgrid=False, zeroline=False,
        tickfont=dict(size=14.5, color=TXT, family=FONT),
        title=dict(text=p['ytitle'], font=dict(size=14.5, color=TXT, family=FONT), standoff=0))

    # confidence bands
    for name, vals, sem, col in reversed(p['series']):
        up = [(v + e) / 1000 for v, e in zip(vals, sem)]
        lo = [(v - e) / 1000 for v, e in zip(vals, sem)]
        fig.add_trace(go.Scatter(x=time_ms + time_ms[::-1], y=up + lo[::-1], fill='toself',
                                 fillcolor=rgba(col, 0.16), line=dict(width=0), mode='lines',
                                 hoverinfo='skip', xaxis=xref, yaxis=yref, showlegend=False))
    # mean lines
    for name, vals, sem, col in reversed(p['series']):
        fig.add_trace(go.Scatter(x=time_ms, y=[v / 1000 for v in vals], mode='lines', name=name,
                                 line=dict(color=col, width=0.9), xaxis=xref, yaxis=yref,
                                 showlegend=False))
    # significance rows
    for (intervals, col), lev in zip(p['sig'], p['levels']):
        xs, ys = [], []
        for a0, a1 in intervals:
            xs += [a0, a1, None]
            ys += [lev, lev, None]
        fig.add_trace(go.Scatter(x=xs, y=ys, mode='lines', line=dict(color=col, width=2.2),
                                 hoverinfo='skip', xaxis=xref, yaxis=yref, showlegend=False))
    # stimulus window bar
    shapes.append(dict(type='line', xref=xref, yref=yref + ' domain', x0=stim_window[0], x1=stim_window[1],
                       y0=-0.006, y1=-0.006, line=dict(color='rgba(150,150,150,0.45)', width=3.5), layer='below'))
    # legend
    lx, tx, ly = p['leg']
    for k, (name, vals, sem, col) in enumerate(p['series']):
        yy = py(ly + k * LEG_STEP)
        shapes.append(dict(type='line', xref='paper', yref='paper', x0=px(lx), x1=px(lx + 25),
                           y0=yy, y1=yy, line=dict(color=col, width=2)))
        annotations.append(dict(text=name, xref='paper', yref='paper', x=px(tx), y=yy,
                                xanchor='left', yanchor='middle', showarrow=False,
                                font=dict(size=14.5, color='#111111', family=FONT)))

annotations.append(dict(text='IT/PHC', xref='paper', yref='paper', x=px(701), y=py(26),
                        xanchor='center', yanchor='middle', showarrow=False,
                        font=dict(size=30, color='#111111', family=FONT)))
annotations.append(dict(text='<b>a</b>', xref='paper', yref='paper', x=px(8), y=py(25),
                        xanchor='left', yanchor='middle', showarrow=False,
                        font=dict(size=32, color='#000000', family=FONT)))
annotations.append(dict(text='<b>b</b>', xref='paper', yref='paper', x=px(8), y=py(399),
                        xanchor='left', yanchor='middle', showarrow=False,
                        font=dict(size=32, color='#000000', family=FONT)))

layout['shapes'] = shapes
layout['annotations'] = annotations
fig.update_layout(**layout)
fig.write_html('out.html')
